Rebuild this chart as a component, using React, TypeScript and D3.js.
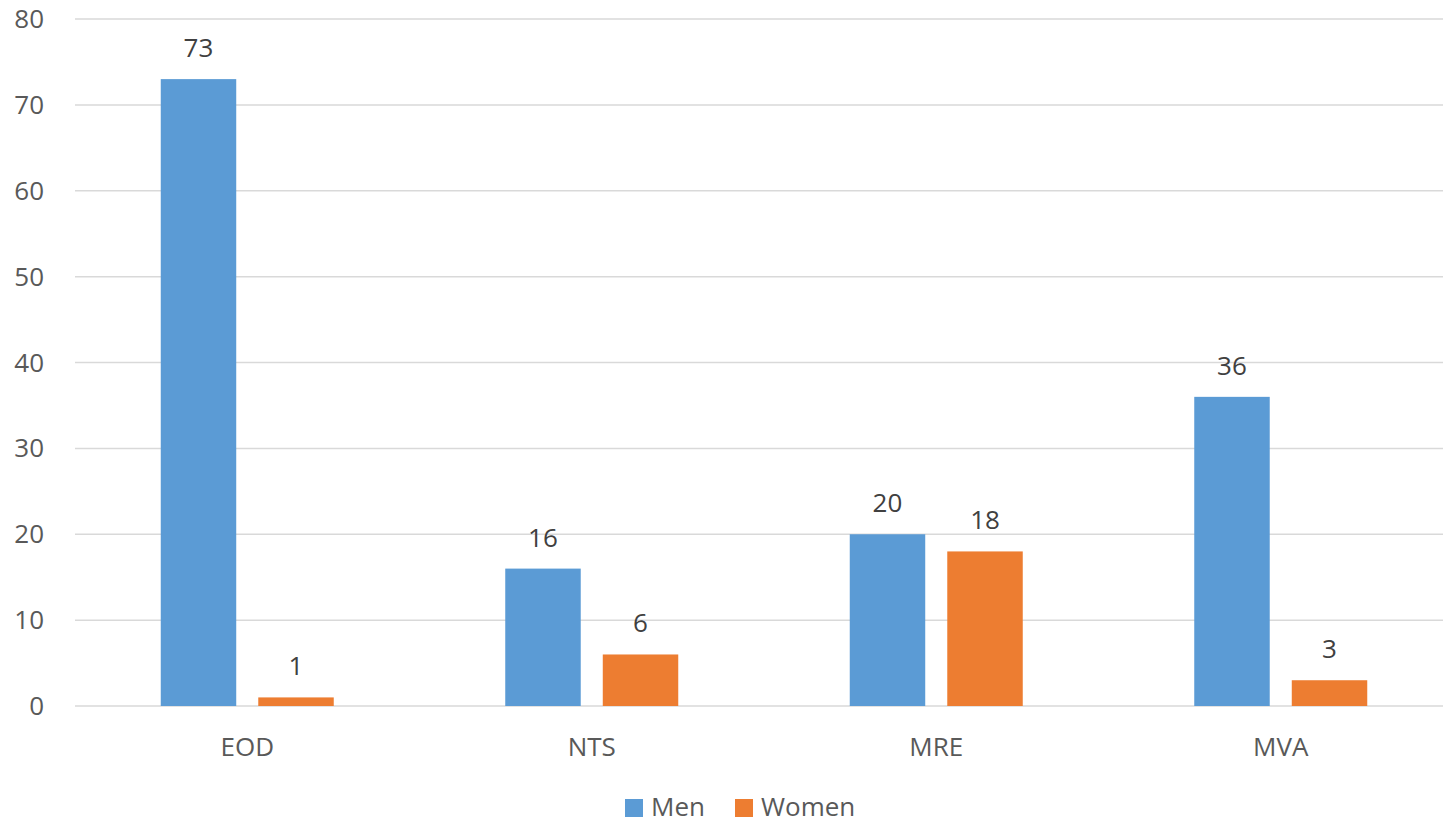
import { useEffect } from 'react'
import * as d3 from 'd3'

const categories = ['EOD', 'NTS', 'MRE', 'MVA']
const seriesNames = ['Men', 'Women']
const men = [73, 16, 20, 36]
const women = [1, 6, 18, 3]
const yTicks = [0, 10, 20, 30, 40, 50, 60, 70, 80]

const colors: Record<string, string> = { Men: '#5B9BD5', Women: '#ED7D31' }
const FONT = '"Open Sans", "Liberation Sans", sans-serif'

export default function App() {
  useEffect(() => {
    document.body.style.margin = '0'
  }, [])

  const width = 1443
  const height = 825
  const left = 75
  const right = 1453

  const y = d3.scaleLinear().domain([0, 80]).range([706, 19])
  const x0 = d3.scaleBand<string>().domain(categories).range([left, right]).padding(0)
  const groupW = 173
  const x1 = d3.scaleBand<string>().domain(seriesNames).range([0, groupW]).paddingInner(0.226)

  const values: Record<string, number[]> = { Men: men, Women: women }

  return (
    <svg width={width} height={height} style={{ display: 'block', background: '#fff' }} fontFamily={FONT}>
      {/* grid */}
      {yTicks.map(t => (
        <g key={t}>
          <line x1={left} x2={width} y1={y(t)} y2={y(t)} stroke="#D9D9D9" strokeWidth={1.5} />
          <text x={44} y={y(t)} dy="0.35em" textAnchor="end" fontSize={26} fill="#595959">{t}</text>
        </g>
      ))}

      {/* bars */}
      {categories.map((c, i) => {
        const gx = x0(c)! + (x0.bandwidth() - groupW) / 2
        return (
          <g key={c} transform={`translate(${gx},0)`}>
            {seriesNames.map(s => {
              const v = values[s][i]
              const bx = x1(s)!
              return (
                <g key={s}>
                  <rect x={bx} y={y(v)} width={x1.bandwidth()} height={y(0) - y(v)} fill={colors[s]} />
                  <text x={bx + x1.bandwidth() / 2} y={y(v) - 22} textAnchor="middle" fontSize={26} fill="#404040">{v}</text>
                </g>
              )
            })}
          </g>
        )
      })}

      {/* category labels */}
      {categories.map(c => (
        <text key={c} x={x0(c)! + x0.bandwidth() / 2} y={756} textAnchor="middle" fontSize={26} fill="#595959">{c}</text>
      ))}

      {/* legend */}
      <g>
        <rect x={625} y={799} width={18} height={18} fill={colors.Men} />
        <text x={651} y={816} fontSize={26} fill="#595959">Men</text>
        <rect x={735} y={799} width={18} height={18} fill={colors.Women} />
        <text x={761} y={816} fontSize={26} fill="#595959">Women</text>
      </g>
    </svg>
  )
}
